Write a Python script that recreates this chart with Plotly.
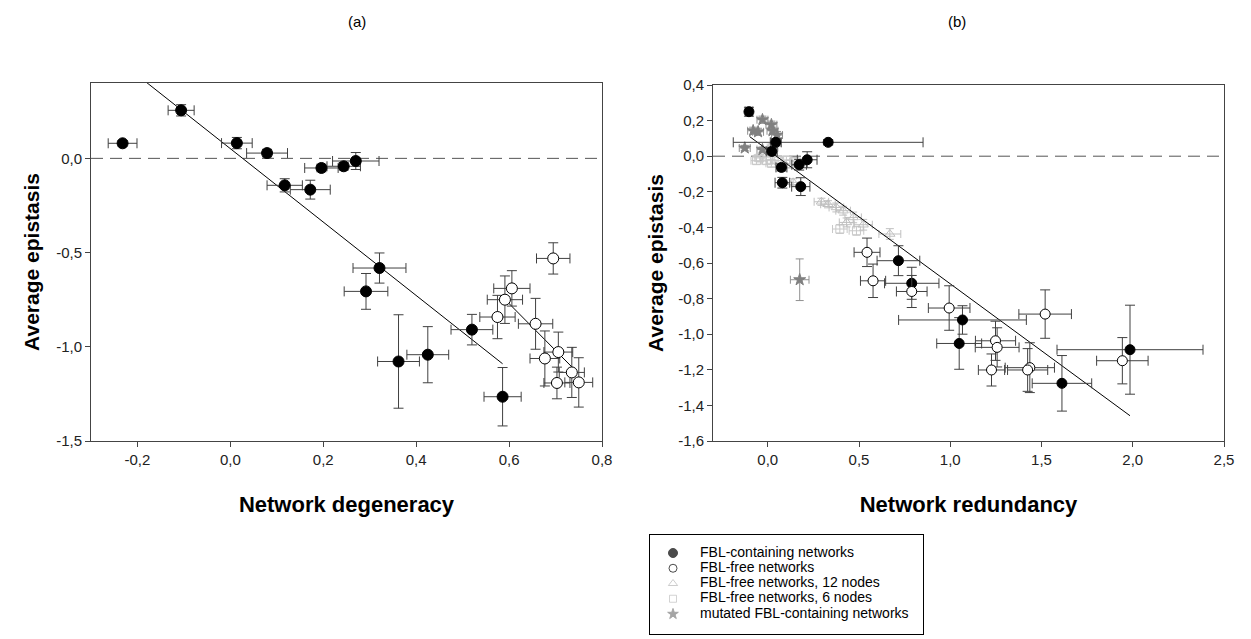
import plotly.graph_objects as go

# ---------------- Panel (a): network degeneracy ----------------
a_fbl_x = [-0.232, -0.106, 0.014, 0.079, 0.117, 0.172, 0.196, 0.244, 0.270, 0.321, 0.292, 0.362, 0.425, 0.520, 0.586]
a_fbl_y = [0.080, 0.255, 0.081, 0.028, -0.143, -0.166, -0.051, -0.042, -0.014, -0.582, -0.706, -1.078, -1.042, -0.909, -1.265]
a_fbl_ex = [0.031, 0.028, 0.033, 0.044, 0.038, 0.043, 0.036, 0.036, 0.050, 0.057, 0.047, 0.045, 0.045, 0.045, 0.040]
a_fbl_ey = [0.015, 0.030, 0.030, 0.020, 0.035, 0.050, 0.020, 0.020, 0.045, 0.080, 0.095, 0.248, 0.149, 0.081, 0.155]

a_free_x = [0.695, 0.606, 0.591, 0.575, 0.657, 0.677, 0.706, 0.735, 0.703, 0.750]
a_free_y = [-0.531, -0.690, -0.750, -0.842, -0.878, -1.062, -1.028, -1.136, -1.192, -1.189]
a_free_ex = [0.036, 0.039, 0.038, 0.038, 0.037, 0.032, 0.031, 0.027, 0.028, 0.030]
a_free_ey = [0.083, 0.094, 0.126, 0.115, 0.135, 0.146, 0.106, 0.133, 0.084, 0.131]

a_fit1_x = [-0.180, 0.586]
a_fit1_y = [0.402, -1.090]
a_fit2_x = [0.586, 0.746]
a_fit2_y = [-0.736, -1.134]

# ---------------- Panel (b): network redundancy ----------------
b_fbl_x = [-0.103, 0.331, 0.022, 0.044, 0.216, 0.172, 0.080, 0.181, 0.075, 0.716, 0.789, 1.067, 1.049, 1.612, 1.985]
b_fbl_y = [0.250, 0.078, 0.027, 0.078, -0.020, -0.048, -0.149, -0.171, -0.063, -0.587, -0.714, -0.920, -1.052, -1.276, -1.087]
b_fbl_ex = [0.020, 0.520, 0.030, 0.030, 0.054, 0.040, 0.040, 0.050, 0.030, 0.117, 0.149, 0.350, 0.123, 0.163, 0.400]
b_fbl_ey = [0.025, 0.015, 0.020, 0.020, 0.045, 0.030, 0.030, 0.050, 0.020, 0.084, 0.090, 0.080, 0.145, 0.156, 0.250]

b_free_x = [0.544, 0.577, 0.789, 0.994, 1.520, 1.248, 1.257, 1.226, 1.436, 1.424, 1.943]
b_free_y = [-0.540, -0.700, -0.760, -0.853, -0.887, -1.037, -1.074, -1.201, -1.188, -1.201, -1.149]
b_free_ex = [0.071, 0.069, 0.084, 0.114, 0.144, 0.110, 0.120, 0.072, 0.135, 0.110, 0.141]
b_free_ey = [0.080, 0.094, 0.090, 0.125, 0.136, 0.110, 0.110, 0.090, 0.140, 0.120, 0.130]

b_n12_x = [0.139, 0.294, 0.376, 0.413, 0.468, 0.432, 0.523, 0.669, 0.330]
b_n12_y = [-0.147, -0.256, -0.288, -0.306, -0.344, -0.372, -0.385, -0.437, -0.270]
b_n12_ex = [0.040, 0.040, 0.040, 0.040, 0.045, 0.040, 0.050, 0.060, 0.040]
b_n12_ey = [0.020, 0.020, 0.025, 0.025, 0.030, 0.025, 0.030, 0.030, 0.020]

b_n6_x = [-0.044, -0.062, -0.007, 0.057, 0.102, 0.121, 0.027, 0.395, 0.486, 0.020, 0.150]
b_n6_y = [-0.010, -0.025, -0.025, -0.025, -0.021, -0.044, 0.049, -0.409, -0.419, -0.040, -0.030]
b_n6_ex = [0.030, 0.030, 0.030, 0.030, 0.030, 0.030, 0.030, 0.040, 0.040, 0.030, 0.030]
b_n6_ey = [0.020, 0.020, 0.020, 0.020, 0.020, 0.020, 0.020, 0.025, 0.025, 0.020, 0.020]

b_mut_x = [-0.029, 0.020, -0.080, -0.053, 0.026, 0.051, -0.126, -0.029, 0.175]
b_mut_y = [0.205, 0.177, 0.143, 0.137, 0.143, 0.119, 0.046, 0.037, -0.694]
b_mut_ex = [0.030, 0.030, 0.030, 0.030, 0.030, 0.030, 0.030, 0.030, 0.051]
b_mut_ey = [0.020, 0.020, 0.020, 0.020, 0.020, 0.020, 0.015, 0.015, 0.117]

b_fit_x = [-0.099, 1.985]
b_fit_y = [0.110, -1.458]

# ---------------- ticks ----------------
a_xtick_vals = [-0.2, 0.0, 0.2, 0.4, 0.6, 0.8]
a_xtick_text = ["-0,2", "0,0", "0,2", "0,4", "0,6", "0,8"]
a_ytick_vals = [0.0, -0.5, -1.0, -1.5]
a_ytick_text = ["0,0", "-0,5", "-1,0", "-1,5"]
b_xtick_vals = [0.0, 0.5, 1.0, 1.5, 2.0, 2.5]
b_xtick_text = ["0,0", "0,5", "1,0", "1,5", "2,0", "2,5"]
b_ytick_vals = [0.4, 0.2, 0.0, -0.2, -0.4, -0.6, -0.8, -1.0, -1.2, -1.4, -1.6]
b_ytick_text = ["0,4", "0,2", "0,0", "-0,2", "-0,4", "-0,6", "-0,8", "-1,0", "-1,2", "-1,4", "-1,6"]

legend_names = ["FBL-containing networks", "FBL-free networks", "FBL-free networks, 12 nodes",
                "FBL-free networks, 6 nodes", "mutated FBL-containing networks"]
legend_rows = [0, 1, 2, 3, 4]

W, H = 1251, 639
FONT = "Arial, Liberation Sans, sans-serif"


def py(p):  # pixel row -> paper fraction
    return (H - p) / H


fig = go.Figure()


def err(vals, color, width):
    return dict(type="data", array=vals, visible=True, color=color, thickness=1, width=width)


def pts(x, y, ex, ey, xa, ya, symbol, size, fill, line, ecolor, ew=5):
    fig.add_trace(go.Scatter(
        x=x, y=y, mode="markers", xaxis=xa, yaxis=ya, showlegend=False,
        error_x=err(ex, ecolor, ew), error_y=err(ey, ecolor, ew),
        marker=dict(symbol=symbol, size=size, color=fill, line=dict(color=line, width=1)),
        hoverinfo="x+y"))


def fitline(x, y, xa, ya):
    fig.add_trace(go.Scatter(x=x, y=y, mode="lines", xaxis=xa, yaxis=ya, showlegend=False,
                             line=dict(color="black", width=1), hoverinfo="skip"))


# dashed zero lines
fig.add_trace(go.Scatter(x=[-0.3, 0.8], y=[0, 0], mode="lines", xaxis="x", yaxis="y", showlegend=False,
                         line=dict(color="#555555", width=1, dash="12px,7px"), hoverinfo="skip"))
fig.add_trace(go.Scatter(x=[-0.3, 2.5], y=[0, 0], mode="lines", xaxis="x2", yaxis="y2", showlegend=False,
                         line=dict(color="#555555", width=1, dash="12px,7px"), hoverinfo="skip"))

# panel (a)
fitline(a_fit1_x, a_fit1_y, "x", "y")
fitline(a_fit2_x, a_fit2_y, "x", "y")
pts(a_fbl_x, a_fbl_y, a_fbl_ex, a_fbl_ey, "x", "y", "circle", 11, "black", "black", "#404040")
pts(a_free_x, a_free_y, a_free_ex, a_free_ey, "x", "y", "circle", 11, "white", "black", "#404040")

# panel (b)
pts(b_n6_x, b_n6_y, b_n6_ex, b_n6_ey, "x2", "y2", "square-open", 8, "#c8c8c8", "#c8c8c8", "#c8c8c8", 4)
pts(b_n12_x, b_n12_y, b_n12_ex, b_n12_ey, "x2", "y2", "triangle-up-open", 9, "#c0c0c0", "#c0c0c0", "#c0c0c0", 4)
pts(b_mut_x, b_mut_y, b_mut_ex, b_mut_ey, "x2", "y2", "star", 9, "#808080", "#808080", "#909090", 4)
fitline(b_fit_x, b_fit_y, "x2", "y2")
pts(b_fbl_x, b_fbl_y, b_fbl_ex, b_fbl_ey, "x2", "y2", "circle", 10, "black", "black", "#404040")
pts(b_free_x, b_free_y, b_free_ex, b_free_ey, "x2", "y2", "circle", 10, "white", "black", "#404040")

# legend box drawn on its own small axes (x3/y3)
leg_symbols = ["circle", "circle-open", "triangle-up-open", "square-open", "star"]
leg_colors = ["black", "black", "#b8b8b8", "#c0c0c0", "#808080"]
leg_sizes = [9, 8, 8, 7, 8]
fig.add_trace(go.Scatter(
    x=[23] * len(legend_rows), y=legend_rows, mode="markers", xaxis="x3", yaxis="y3", showlegend=False,
    marker=dict(symbol=leg_symbols, color=leg_colors, size=leg_sizes, line=dict(color=leg_colors, width=1)),
    hoverinfo="skip"))
fig.add_trace(go.Scatter(
    x=[50] * len(legend_rows), y=legend_rows, mode="text", text=legend_names, textposition="middle right",
    textfont=dict(family=FONT, size=14, color="black"), xaxis="x3", yaxis="y3", showlegend=False,
    hoverinfo="skip"))

axis_common = dict(showgrid=False, zeroline=False, showline=True, linecolor="#444444", linewidth=1,
                   mirror=True, ticks="outside", ticklen=5, tickcolor="#444444",
                   tickfont=dict(family=FONT, size=15, color="#222222"))
xtitle_font = dict(family=FONT, size=22, color="black")
ytitle_font = dict(family=FONT, size=21, color="black")

fig.update_layout(
    width=W, height=H,
    margin=dict(l=0, r=0, t=0, b=0, autoexpand=False),
    paper_bgcolor="white", plot_bgcolor="white",
    showlegend=False,
    xaxis=dict(domain=[91 / W, 602 / W], range=[-0.3, 0.8], tickvals=a_xtick_vals, ticktext=a_xtick_text,
               anchor="y", title=dict(text="<b>Network degeneracy</b>", font=xtitle_font, standoff=29),
               **axis_common),
    yaxis=dict(domain=[py(441), py(83)], range=[-1.5, 0.4], tickvals=a_ytick_vals, ticktext=a_ytick_text,
               anchor="x", title=dict(text="<b>Average epistasis</b>", font=ytitle_font, standoff=10),
               **axis_common),
    xaxis2=dict(domain=[713 / W, 1224 / W], range=[-0.3, 2.5], tickvals=b_xtick_vals, ticktext=b_xtick_text,
                anchor="y2", title=dict(text="<b>Network redundancy</b>", font=xtitle_font, standoff=29),
                **axis_common),
    yaxis2=dict(domain=[py(441), py(85)], range=[-1.6, 0.4], tickvals=b_ytick_vals, ticktext=b_ytick_text,
                anchor="x2", title=dict(text="<b>Average epistasis</b>", font=ytitle_font, standoff=8),
                **axis_common),
    xaxis3=dict(domain=[650 / W, 923 / W], range=[0, 273], anchor="y3", showgrid=False, zeroline=False,
                showticklabels=False, ticks="", showline=True, mirror=True, linecolor="black", linewidth=1,
                fixedrange=True),
    yaxis3=dict(domain=[py(634), py(535)], range=[5.31, -1.18], anchor="x3", showgrid=False, zeroline=False,
                showticklabels=False, ticks="", showline=True, mirror=True, linecolor="black", linewidth=1,
                fixedrange=True),
    annotations=[
        dict(text="(a)", x=346 / W, y=py(21), xref="paper", yref="paper",
             yanchor="middle", showarrow=False, font=dict(family=FONT, size=15, color="black")),
        dict(text="(b)", x=968 / W, y=py(21), xref="paper", yref="paper",
             yanchor="middle", showarrow=False, font=dict(family=FONT, size=15, color="black")),
    ],
    hovermode="closest",
)

fig.write_html("out.html")
